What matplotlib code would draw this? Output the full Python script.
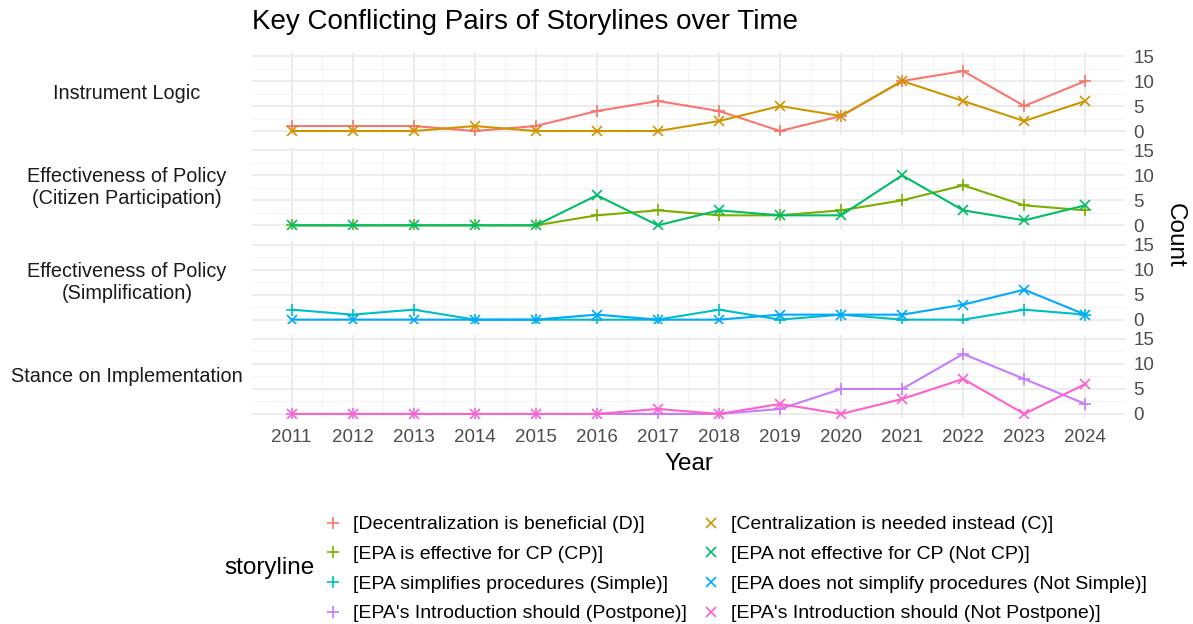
import matplotlib.pyplot as plt
from matplotlib.lines import Line2D

plt.rcParams['font.family'] = ['Liberation Sans', 'DejaVu Sans']

years = list(range(2011, 2025))

panels = ['Instrument Logic',
          'Effectiveness of Policy\n(Citizen Participation)',
          'Effectiveness of Policy\n(Simplification)',
          'Stance on Implementation']

storylines = ['[Decentralization is beneficial (D)]',
              '[Centralization is needed instead (C)]',
              '[EPA is effective for CP (CP)]',
              '[EPA not effective for CP (Not CP)]',
              '[EPA simplifies procedures (Simple)]',
              '[EPA does not simplify procedures (Not Simple)]',
              "[EPA's Introduction should (Postpone)]",
              "[EPA's Introduction should (Not Postpone)]"]

d_vals = [1, 1, 1, 0, 1, 4, 6, 4, 0, 3, 10, 12, 5, 10]
c_vals = [0, 0, 0, 1, 0, 0, 0, 2, 5, 3, 10, 6, 2, 6]
cp_vals = [0, 0, 0, 0, 0, 2, 3, 2, 2, 3, 5, 8, 4, 3]
notcp_vals = [0, 0, 0, 0, 0, 6, 0, 3, 2, 2, 10, 3, 1, 4]
simple_vals = [2, 1, 2, 0, 0, 0, 0, 2, 0, 1, 0, 0, 2, 1]
notsimple_vals = [0, 0, 0, 0, 0, 1, 0, 0, 1, 1, 1, 3, 6, 1]
postpone_vals = [0, 0, 0, 0, 0, 0, 0, 0, 1, 5, 5, 12, 7, 2]
notpostpone_vals = [0, 0, 0, 0, 0, 0, 1, 0, 2, 0, 3, 7, 0, 6]

series = [d_vals, c_vals, cp_vals, notcp_vals,
          simple_vals, notsimple_vals, postpone_vals, notpostpone_vals]
colors = ['#F8766D', '#CD9600', '#7CAE00', '#00BE67',
          '#00BFC4', '#00A9FF', '#C77CFF', '#FF61CC']
markers = ['+', 'x'] * 4
msizes = {'+': 8.5, 'x': 7.5}

fig, axes = plt.subplots(4, 1, figsize=(11.93, 6.24), dpi=100, sharex=True)
fig.subplots_adjust(left=0.2112, right=0.943, top=0.9162, bottom=0.3306, hspace=0.1435)

for p, ax in enumerate(axes):
    for k in (2 * p, 2 * p + 1):
        ax.plot(years, series[k], color=colors[k], lw=1.5, marker=markers[k],
                markersize=msizes[markers[k]], markeredgewidth=1.2)
    ax.set_ylim(-0.75, 15.75)
    ax.set_xlim(2010.35, 2024.65)
    ax.set_yticks([0, 5, 10, 15])
    ax.set_yticks([2.5, 7.5, 12.5], minor=True)
    ax.set_xticks(years)
    ax.set_xticks([y + 0.5 for y in years[:-1]], minor=True)
    ax.yaxis.tick_right()
    ax.tick_params(which='both', length=0, labelsize=13.5, colors='#4D4D4D', pad=6)
    ax.tick_params(axis='x', pad=8)
    ax.grid(True, which='major', color='#EBEBEB', lw=1.3)
    ax.grid(True, which='minor', color='#F3F3F3', lw=0.7)
    ax.set_axisbelow(True)
    for s in ax.spines.values():
        s.set_visible(False)
    pos = ax.get_position()
    fig.text(0.1065, (pos.y0 + pos.y1) / 2, panels[p], ha='center', va='center',
             fontsize=14.3, color='#1A1A1A', multialignment='center')

axes[-1].set_xlabel('Year', fontsize=17.5, labelpad=5)

fig.text(0.985, 0.623, 'Count', rotation=270, ha='center', va='center', fontsize=17.5)
fig.suptitle('Key Conflicting Pairs of Storylines over Time', x=0.211, y=0.985,
             ha='left', va='top', fontsize=20)

# legend: ggplot fills row-wise, matplotlib column-wise, so reorder
order = [0, 2, 4, 6, 1, 3, 5, 7]
handles = [Line2D([], [], ls='none', marker=markers[i], color=colors[i],
                  markersize=msizes[markers[i]], markeredgewidth=1.2) for i in order]
labels = [storylines[i] for i in order]
fig.legend(handles, labels, ncol=2, loc='center left', bbox_to_anchor=(0.2565, 0.088),
           frameon=False, fontsize=14, handlelength=1.0, handletextpad=0.53,
           columnspacing=0.75, labelspacing=0.62)
fig.text(0.1878, 0.0897, 'storyline', ha='left', va='center', fontsize=17.5)

fig.savefig('out.png', dpi=100)
